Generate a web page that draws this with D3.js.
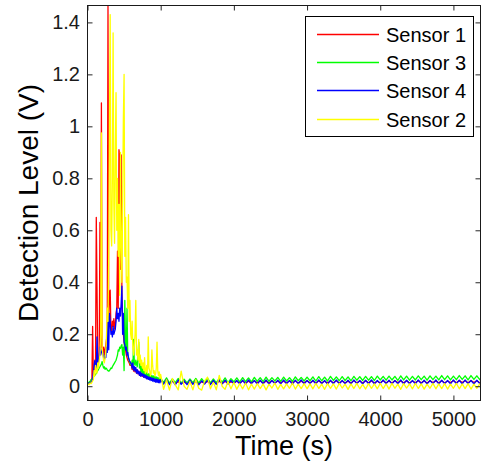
<!DOCTYPE html>
<html>
<head>
<meta charset="utf-8">
<script src="https://cdn.jsdelivr.net/npm/d3@7"></script>
<style>
  html, body { margin: 0; padding: 0; background: #fff; }
  svg { display: block; font-family: "Liberation Sans", Arial, sans-serif; }
</style>
</head>
<body>
<svg id="chart" width="483" height="465"></svg>
<script>
// ---- Data (values in mV) ----
const seriesNames = ["Sensor 1", "Sensor 3", "Sensor 4", "Sensor 2"];
const seriesColors = ["#ff0000", "#00ff00", "#0000ff", "#ffff00"];

// sampling grid (s)
const timeEarly = d3.range(0, 1000, 10);     // 0 .. 990
const timeLate  = d3.range(1000, 5401, 40);  // 1000 .. 5400

const sensor1Early = [10,12,10,15,20,25,30,230,40,50,
  70,100,650,380,90,100,110,630,150,1090,
  140,130,150,120,140,160,180,200,1470,250,
  360,370,220,210,250,230,260,220,240,280,
  300,520,300,910,880,450,890,360,260,200,
  170,150,140,120,110,100,95,90,80,80,
  80,65,75,58,70,55,66,50,62,48,
  58,42,54,40,50,38,47,35,44,33,
  42,30,40,28,38,27,36,25,34,24,
  32,22,30,21,29,20,28,19,27,18];
const sensor1Late = [22,14,20,12,18,11,17,12,16,11,17,
  11,18,10,17,12,18,11,17,12,19,11,18,12,17,13,
  19,12,20,13,19,12,21,13,20,12,19,13,21,12,20,13,19,12,21,13,20,12,19,13,21,
  13,20,12,21,13,19,12,20,13,21,12,20,13,19,12,21,13,20,12,21,13,20,12,19,13,
  21,13,20,12,21,14,20,13,21,12,20,14,21,13,20,12,21,14,20,13,21,12,20,14,21,
  13,22,14,21,13,22,14,21,13,22];

const sensor3Early = [10,12,15,18,20,25,28,30,35,40,
  42,45,50,55,60,64,70,75,80,85,
  95,80,70,75,65,70,68,62,60,58,
  60,65,70,68,75,80,85,90,95,100,
  110,120,140,135,150,145,155,160,120,150,
  60,330,160,140,300,120,110,100,90,85,
  80,100,70,180,90,80,100,85,75,120,
  170,70,90,55,75,45,68,40,60,42,
  55,35,50,30,48,28,45,27,42,25,
  40,24,38,22,36,20,34,20,32,18];
const sensor3Late = [30,15,32,12,28,14,30,12,27,13,28,
  14,30,12,29,15,31,13,28,14,30,16,32,14,29,17,
  32,17,33,18,32,17,34,19,33,18,35,19,33,20,34,19,35,20,33,19,36,21,34,20,35,
  21,36,20,37,21,35,20,38,22,36,21,37,22,36,21,38,23,37,22,38,23,37,22,39,24,
  38,23,39,24,38,22,40,24,39,23,38,24,40,25,39,23,40,25,39,24,41,25,40,24,39,
  25,41,26,40,24,41,26,40,25,42];

const sensor4Early = [10,10,12,12,14,15,20,30,50,80,
  100,70,60,190,90,100,110,150,120,130,
  140,130,110,100,120,110,150,130,270,140,
  280,250,200,210,190,230,200,210,220,250,
  300,260,280,250,300,270,320,385,200,280,
  170,160,140,150,120,130,110,100,95,90,
  85,70,90,62,75,58,72,50,64,48,
  58,42,55,38,50,40,47,34,44,32,
  42,28,38,26,36,24,34,22,32,20,
  30,18,28,16,27,15,26,14,24,13];
const sensor4Late = [24,8,26,6,22,5,24,7,21,6,23,
  7,22,5,21,8,23,6,22,7,24,9,23,8,22,10,
  22,9,23,8,24,10,22,8,23,9,24,8,22,10,23,9,24,10,22,8,23,10,24,9,22,
  10,23,9,24,10,22,8,23,10,24,9,22,10,23,9,24,10,22,9,23,10,24,9,22,10,
  24,10,23,9,22,10,24,9,23,10,22,9,24,10,23,9,22,10,24,9,23,10,22,9,24,
  10,23,9,24,10,22,9,23,10,24];

const sensor2Early = [5,8,6,10,12,10,15,20,25,60,
  40,80,60,50,90,70,100,120,200,975,
  150,120,100,90,110,130,200,300,250,500,
  1000,1430,600,540,800,1360,700,550,900,1130,
  600,800,500,700,350,900,550,400,700,1030,
  1200,500,650,400,420,300,660,250,330,200,
  180,250,150,120,160,200,330,120,140,100,
  180,90,120,80,100,70,90,60,110,50,
  60,80,50,190,70,60,40,50,140,80,
  50,60,40,45,70,170,60,40,55,30];
const sensor2Late = [45,-12,25,-15,30,5,-14,58,0,-12,18,
  -14,25,-8,-15,20,35,-10,15,-14,42,0,-12,18,-10,14,
  -12,10,-10,12,-14,8,-11,10,-9,9,-14,8,-7,12,-12,7,-10,9,-8,12,-11,8,-9,10,-10,
  9,-10,11,-9,8,-12,10,-8,9,-11,11,-7,8,-12,9,-9,11,-10,7,-11,10,-8,9,-10,11,
  -9,9,-11,11,-8,8,-12,10,-7,9,-10,11,-9,9,-11,8,-8,11,-10,9,-9,10,-11,8,-8,
  11,-10,9,-9,10,-11,8,-8,9,-9];

const xTicks = [0, 1000, 2000, 3000, 4000, 5000];
const xTickLabels = ["0", "1000", "2000", "3000", "4000", "5000"];
const yTicks = [0, 0.2, 0.4, 0.6, 0.8, 1, 1.2, 1.4];
const yTickLabels = ["0", "0.2", "0.4", "0.6", "0.8", "1", "1.2", "1.4"];

const earlyVals = [sensor1Early, sensor3Early, sensor4Early, sensor2Early];
const lateVals  = [sensor1Late, sensor3Late, sensor4Late, sensor2Late];

const series = seriesNames.map((name, k) => ({
  name, color: seriesColors[k],
  points: timeEarly.map((t, i) => [t, earlyVals[k][i] / 1000])
    .concat(timeLate.map((t, i) => [t, lateVals[k][i] / 1000]))
    .filter(p => p[1] !== undefined && !isNaN(p[1]))
}));

// ---- Layout ----
const L = 87.5, R = 480.5, T = 5.5, B = 400.5;
const svg = d3.select("#chart");
const x = d3.scaleLinear().domain([0, 5370]).range([L, R]);
const y = d3.scaleLinear().domain([-0.055, 1.465]).range([B, T]);

svg.append("defs").append("clipPath").attr("id", "clip")
  .append("rect").attr("x", L).attr("y", T).attr("width", R - L).attr("height", B - T);

const line = d3.line().x(d => x(d[0])).y(d => y(d[1]));
const g = svg.append("g").attr("clip-path", "url(#clip)");
g.selectAll("path").data(series).join("path")
  .attr("d", d => line(d.points))
  .attr("fill", "none")
  .attr("stroke", d => d.color)
  .attr("stroke-width", 1.3)
  .attr("stroke-linejoin", "round");

// ---- Axes ----
const fs = 20;
const xb = svg.append("g").attr("transform", `translate(0,${B})`)
  .call(d3.axisBottom(x).tickValues(xTicks).tickFormat((d, i) => xTickLabels[i])
    .tickSize(-5).tickPadding(11));
const xt = svg.append("g").attr("transform", `translate(0,${T})`)
  .call(d3.axisTop(x).tickValues(xTicks).tickFormat("").tickSize(-5));
const yl = svg.append("g").attr("transform", `translate(${L},0)`)
  .call(d3.axisLeft(y).tickValues(yTicks).tickFormat((d, i) => yTickLabels[i])
    .tickSize(-5).tickPadding(7.5));
const yr = svg.append("g").attr("transform", `translate(${R},0)`)
  .call(d3.axisRight(y).tickValues(yTicks).tickFormat("").tickSize(-5));

[xb, xt, yl, yr].forEach(a => {
  a.select(".domain").remove();
  a.selectAll("line").attr("stroke", "#262626");
  a.selectAll("text").attr("font-size", fs).attr("fill", "#1a1a1a")
    .attr("font-family", "'Liberation Sans', Arial, sans-serif");
});

svg.append("rect").attr("x", L).attr("y", T).attr("width", R - L).attr("height", B - T)
  .attr("fill", "none").attr("stroke", "#1a1a1a").attr("stroke-width", 1);

// ---- Axis titles ----
svg.append("text").attr("x", (L + R) / 2).attr("y", 455)
  .attr("text-anchor", "middle").attr("font-size", 27).attr("fill", "#000")
  .text("Time (s)");
svg.append("text").attr("transform", `translate(38,${(T + B) / 2}) rotate(-90)`)
  .attr("text-anchor", "middle").attr("font-size", 28).attr("fill", "#000")
  .text("Detection Level (V)");

// ---- Legend ----
const lg = svg.append("g");
lg.append("rect").attr("x", 305.5).attr("y", 16.5).attr("width", 168).attr("height", 120)
  .attr("fill", "#fff").attr("stroke", "#000").attr("stroke-width", 1);
const rowY = [34.5, 62.5, 90.5, 119.5];
series.forEach((s, i) => {
  lg.append("line").attr("x1", 317).attr("x2", 379).attr("y1", rowY[i]).attr("y2", rowY[i])
    .attr("stroke", s.color).attr("stroke-width", 1.5);
  lg.append("text").attr("x", 386).attr("y", rowY[i]).attr("dy", "0.35em")
    .attr("font-size", fs).attr("fill", "#000").text(s.name);
});
</script>
</body>
</html>
